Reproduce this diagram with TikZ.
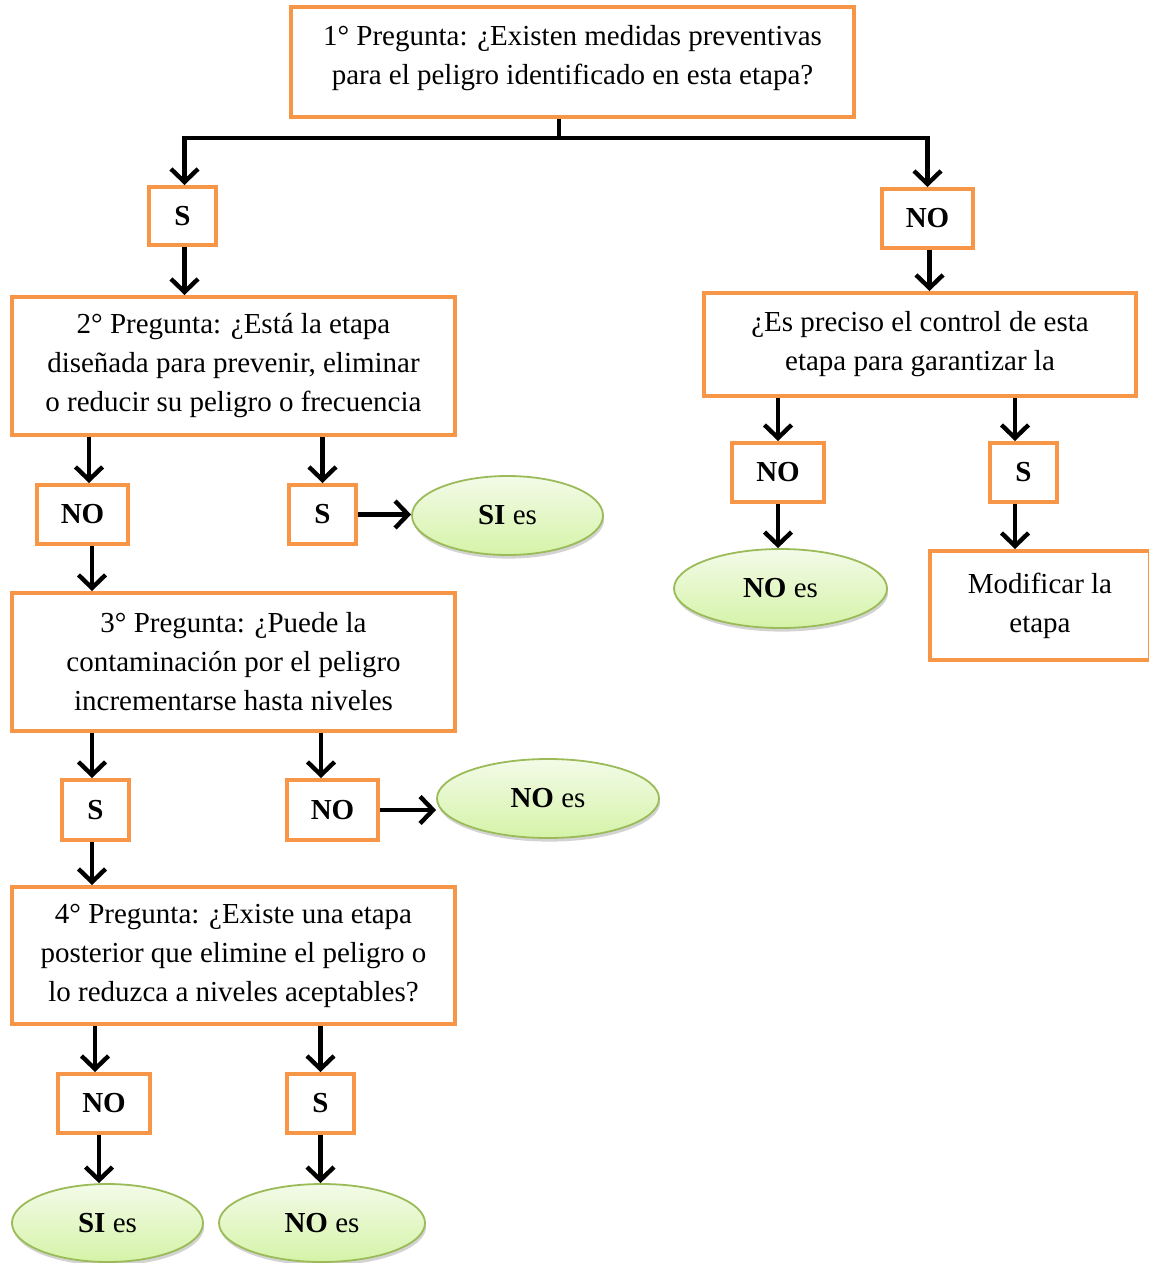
\documentclass[tikz,border=0pt]{standalone}
\usepackage{fontspec}
\setmainfont{Liberation Serif}
\usetikzlibrary{arrows.meta,shapes.geometric,shadows}

\definecolor{naranja}{HTML}{F79646}
\definecolor{verdeborde}{HTML}{9BBB59}
\definecolor{verdeclaro}{HTML}{F3FBE8}
\definecolor{verdefondo}{HTML}{D5F3A8}

\tikzset{
  caja/.style={draw=naranja, line width=2pt, align=center, inner sep=0pt,
    font=\fontsize{14.5}{19.5}\selectfont},
  resp/.style={caja, font=\fontsize{14.5}{17}\selectfont\bfseries},
  fin/.style={ellipse, draw=verdeborde, line width=0.9pt, inner sep=0pt,
    top color=verdeclaro, bottom color=verdefondo,
    font=\fontsize{14.5}{17}\selectfont,
    drop shadow={shadow xshift=0.6pt, shadow yshift=-1.8pt, opacity=0.35}},
  flecha/.style={-{Straight Barb[length=6.5pt,width=13.5pt]}, line width=2.2pt}
}

\begin{document}
\begin{tikzpicture}[x=0.5pt, y=-0.5pt]
\useasboundingbox (0,0) rectangle (1149,1263);
% Preguntas
\node[caja, minimum width=281.5pt, minimum height=55pt] (preg1) at (572.5,62)
  {1° Pregunta: ¿Existen medidas preventivas\\para el peligro identificado en esta etapa?\\[-12.5pt]};
\node[caja, minimum width=221.5pt, minimum height=69pt] (preg2) at (233.5,366)
  {2° Pregunta: ¿Está la etapa\\diseñada para prevenir, eliminar\\o reducir su peligro o frecuencia};
\node[caja, minimum width=221.5pt, minimum height=69pt] (preg3) at (233.5,662)
  {3° Pregunta: ¿Puede la\\contaminación por el peligro\\incrementarse hasta niveles};
\node[caja, minimum width=221.5pt, minimum height=68.5pt] (preg4) at (233.5,955.5)
  {4° Pregunta: ¿Existe una etapa\\posterior que elimine el peligro o\\lo reduzca a niveles aceptables?};
\node[caja, minimum width=216pt, minimum height=51.5pt] (control) at (920,344.5)
  {¿Es preciso el control de esta\\etapa para garantizar la};
\node[caja, minimum width=110pt, minimum height=54.5pt] (modif) at (1040,605.5)
  {Modificar la\\etapa};
% Respuestas
\node[resp, minimum width=33.5pt, minimum height=29pt] (si1) at (182.5,216) {S};
\node[resp, minimum width=45.5pt, minimum height=29.5pt] (no1) at (927.5,218.5) {NO};
\node[resp, minimum width=45.5pt, minimum height=29.5pt] (no2) at (82.5,514.5) {NO};
\node[resp, minimum width=33.5pt, minimum height=29.5pt] (si2) at (322.5,514.5) {S};
\node[resp, minimum width=46pt, minimum height=29.5pt] (no3) at (778,472.5) {NO};
\node[resp, minimum width=33.5pt, minimum height=29.5pt] (si3) at (1023.5,472.5) {S};
\node[resp, minimum width=33.5pt, minimum height=30pt] (si4) at (95.5,810) {S};
\node[resp, minimum width=45.5pt, minimum height=30pt] (no4) at (332.5,810) {NO};
\node[resp, minimum width=46pt, minimum height=29.5pt] (no5) at (104,1103.5) {NO};
\node[resp, minimum width=33.5pt, minimum height=29.5pt] (si5) at (320.5,1103.5) {S};
% Resultados
\node[fin, minimum width=95.5pt, minimum height=39.5pt] (fin1) at (507.5,515.5) {\textbf{SI} es};
\node[fin, minimum width=106.5pt, minimum height=39.5pt] (fin2) at (780.5,588.5) {\textbf{NO} es};
\node[fin, minimum width=111pt, minimum height=39.5pt] (fin3) at (548,798.5) {\textbf{NO} es};
\node[fin, minimum width=95.5pt, minimum height=39pt] (fin4) at (107.5,1223) {\textbf{SI} es};
\node[fin, minimum width=103pt, minimum height=39pt] (fin5) at (322,1223) {\textbf{NO} es};
% Ramas de la primera pregunta
\coordinate (rama) at (559,138);
\draw[line width=2.2pt] (preg1.south -| rama) -- (rama);
\draw[flecha] (rama) -| ([xshift=1pt]si1.north);
\draw[flecha] (rama) -| (no1.north);
% Flechas
\draw[flecha] ([xshift=1pt]si1.south) -- ([xshift=1pt]preg2.north -| si1.south);
\draw[flecha] ([xshift=1pt]no1.south) -- ([xshift=1pt]control.north -| no1.south);
\draw[flecha] ([xshift=3.25pt]preg2.south -| no2.north) -- ([xshift=3.25pt]no2.north);
\draw[flecha] (preg2.south -| si2) -- (si2.north);
\draw[flecha] (si2.east) -- (si2.east -| fin1.west);
\draw[flecha] ([xshift=4.75pt]no2.south) -- ([xshift=4.75pt]preg3.north -| no2.south);
\draw[flecha] (control.south -| no3) -- (no3.north);
\draw[flecha] ([xshift=-4.25pt]control.south -| si3.north) -- ([xshift=-4.25pt]si3.north);
\draw[flecha] ([xshift=-4.25pt]si3.south) -- ([xshift=-4.25pt]modif.north -| si3.south);
\draw[flecha] (no3.south) -- (no3.south |- fin2.north);
\draw[flecha] ([xshift=-1.75pt]preg3.south -| si4.north) -- ([xshift=-1.75pt]si4.north);
\draw[flecha] ([xshift=-5.75pt]preg3.south -| no4.north) -- ([xshift=-5.75pt]no4.north);
\draw[flecha] (no4.east) -- (no4.east -| fin3.west);
\draw[flecha] ([xshift=-1.75pt]si4.south) -- ([xshift=-1.75pt]preg4.north -| si4.south);
\draw[flecha] ([xshift=-4.5pt]preg4.south -| no5.north) -- ([xshift=-4.5pt]no5.north);
\draw[flecha] (preg4.south -| si5) -- (si5.north);
\draw[flecha] ([xshift=-2.5pt]no5.south) -- ([xshift=-2.5pt]fin4.north -| no5.south);
\draw[flecha] (si5.south) -- (si5.south |- fin5.north);
\end{tikzpicture}
\end{document}
